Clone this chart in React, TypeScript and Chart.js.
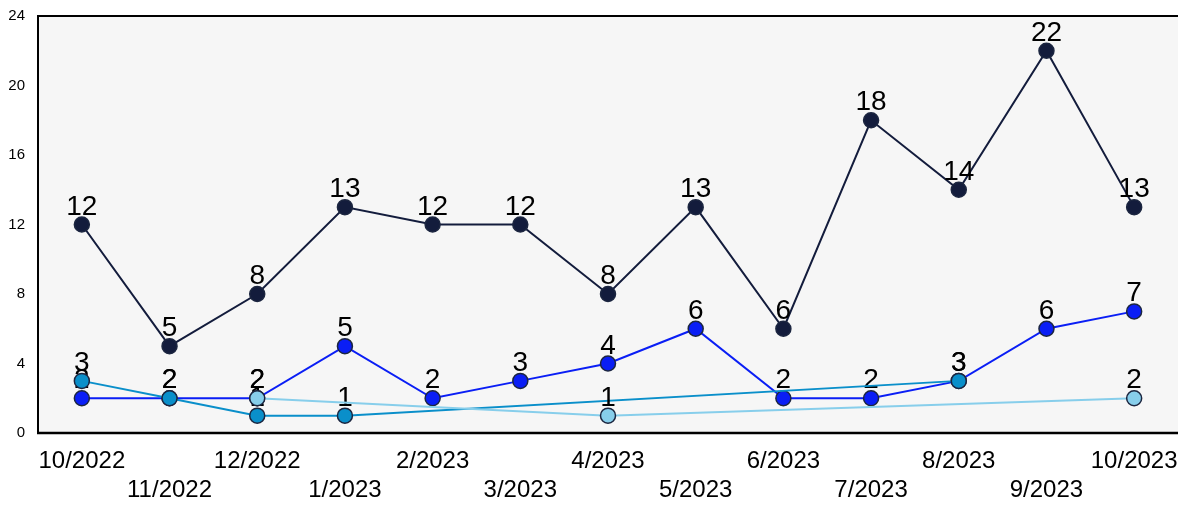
import React, { useEffect, useRef } from "react";
import { Chart, registerables } from "chart.js";

Chart.register(...registerables);

const months = ["10/2022", "11/2022", "12/2022", "1/2023", "2/2023", "3/2023", "4/2023", "5/2023", "6/2023", "7/2023", "8/2023", "9/2023", "10/2023"];
const seriesNavy = [12, 5, 8, 13, 12, 12, 8, 13, 6, 18, 14, 22, 13];
const seriesBlue = [2, 2, 2, 5, 2, 3, 4, 6, 2, 2, 3, 6, 7];
const seriesTeal = [3, 2, 1, 1, null, null, null, null, null, null, 3, null, null];
const seriesLight = [null, null, 2, null, null, null, 1, null, null, null, null, null, 2];
const yTicks = [0, 4, 8, 12, 16, 20, 24];

const FONT = "Arial, 'Liberation Sans', sans-serif";

const bgPlugin = {
  id: "bgPlugin",
  beforeDatasetsDraw(chart: any) {
    const { ctx, chartArea: a } = chart;
    ctx.save();
    ctx.fillStyle = "#f6f6f6";
    ctx.fillRect(a.left, a.top, a.right - a.left, a.bottom - a.top);
    ctx.strokeStyle = "#000";
    ctx.lineWidth = 2;
    ctx.beginPath();
    ctx.moveTo(a.right, a.top);
    ctx.lineTo(a.left, a.top);
    ctx.lineTo(a.left, a.bottom);
    ctx.stroke();
    ctx.lineWidth = 2.5;
    ctx.beginPath();
    ctx.moveTo(a.left - 1, a.bottom);
    ctx.lineTo(a.right, a.bottom);
    ctx.stroke();
    ctx.restore();
  },
};

const labelPlugin = {
  id: "labelPlugin",
  afterDatasetDraw(chart: any, args: any) {
    const { ctx } = chart;
    const meta = args.meta;
    const data = chart.data.datasets[args.index].data;
    ctx.save();
    ctx.fillStyle = "#000";
    ctx.font = `28px ${FONT}`;
    ctx.textAlign = "center";
    ctx.textBaseline = "alphabetic";
    meta.data.forEach((pt: any, i: number) => {
      const v = data[i];
      if (v === null || v === undefined) return;
      ctx.fillText(String(v), pt.x, pt.y - 10);
    });
    ctx.restore();
  },
};

export default function App() {
  const ref = useRef<HTMLCanvasElement>(null);
  useEffect(() => {
    if (!ref.current) return;
    const border = "#1c2640";
    const mk = (label: string, data: any[], color: string, order: number, width = 2) => ({
      label,
      data,
      borderColor: color,
      backgroundColor: color,
      pointBackgroundColor: color,
      pointBorderColor: border,
      pointBorderWidth: 1.5,
      pointRadius: 7.5,
      borderWidth: width,
      spanGaps: true,
      tension: 0,
      order,
      clip: false,
    });
    const chart = new Chart(ref.current, {
      type: "line",
      data: {
        labels: months,
        datasets: [
          mk("A", seriesNavy, "#131c3c", 3),
          mk("B", seriesBlue, "#0a1ef5", 2),
          mk("C", seriesTeal, "#0a8fca", 1),
          mk("D", seriesLight, "#87ceeb", 0),
        ],
      },
      options: {
        animation: false,
        responsive: false,
        layout: { autoPadding: false, padding: { top: 16, right: 0, left: 0, bottom: 0 } },
        plugins: { legend: { display: false }, tooltip: { enabled: false } },
        scales: {
          x: {
            offset: true,
            grid: { display: false, drawTicks: false },
            border: { display: false },
            afterFit: (s: any) => {
              s.height = 72;
              s.paddingLeft = 0;
              s.paddingRight = 0;
            },
            ticks: {
              autoSkip: false,
              maxRotation: 0,
              minRotation: 0,
              padding: 14,
              color: "#000",
              font: { size: 24, family: FONT, lineHeight: 1.2 },
              callback: (_v: any, i: number) => (i % 2 === 0 ? [months[i]] : ["", months[i]]),
            },
          },
          y: {
            min: 0,
            max: 24,
            grid: { display: false, drawTicks: false },
            border: { display: false },
            afterFit: (s: any) => {
              s.width = 38;
              s.paddingTop = 0;
              s.paddingBottom = 0;
            },
            afterBuildTicks: (s: any) => { s.ticks = yTicks.map((v) => ({ value: v })); },
            ticks: {
              padding: 13,
              color: "#000",
              font: { size: 15, family: FONT },
            },
          },
        },
      },
      plugins: [bgPlugin, labelPlugin],
    });
    return () => chart.destroy();
  }, []);
  return (
    <div style={{ position: "fixed", left: 0, top: 0, width: 1178, height: 505, background: "#fff" }}>
      <canvas ref={ref} width={1178} height={505} />
    </div>
  );
}
